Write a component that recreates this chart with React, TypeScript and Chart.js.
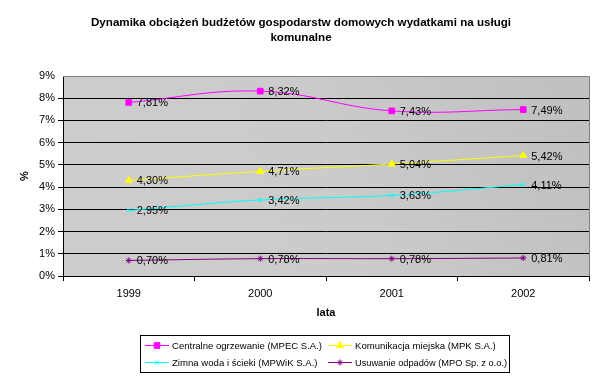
import React, { useEffect, useRef } from "react";
import { Chart, registerables } from "chart.js";
import { drawPoint } from "chart.js/helpers";

Chart.register(...registerables);

const titleLines = [
  "Dynamika obciążeń budżetów gospodarstw domowych wydatkami na usługi",
  "komunalne",
];
const categories = ["1999", "2000", "2001", "2002"];
const seriesNames = [
  "Centralne ogrzewanie (MPEC S.A.)",
  "Komunikacja miejska (MPK S.A.)",
  "Zimna woda i ścieki (MPWiK S.A.)",
  "Usuwanie odpadów (MPO Sp. z o.o.)",
];
const heating = [7.81, 8.32, 7.43, 7.49];
const transport = [4.3, 4.71, 5.04, 5.42];
const water = [2.95, 3.42, 3.63, 4.11];
const waste = [0.7, 0.78, 0.78, 0.81];
const yTicks = [0, 1, 2, 3, 4, 5, 6, 7, 8, 9];
const xTitle = "lata";
const yTitle = "%";

const colors = ["#FF00FF", "#FFFF00", "#00FFFF", "#800080"];
const pointStyles = ["rect", "triangle", "crossRot", "star"];
const radii = [4, 4, 3, 3];
const FONT = "'Liberation Sans', Arial, sans-serif";

const fmt = (v: number) => v.toFixed(2).replace(".", ",") + "%";

const decorPlugin = {
  id: "decor",
  beforeDraw(chart: any) {
    const { ctx, chartArea: a } = chart;
    ctx.save();
    const g = ctx.createLinearGradient(a.left, a.bottom, a.right, a.top);
    g.addColorStop(0, "#cdcdcd");
    g.addColorStop(0.5, "#cbcbcb");
    g.addColorStop(1, "#bfbfbf");
    ctx.fillStyle = g;
    ctx.fillRect(a.left, a.top, a.right - a.left, a.bottom - a.top);
    ctx.restore();
  },
  beforeDatasetsDraw(chart: any) {
    const { ctx, chartArea: a } = chart;
    ctx.save();
    ctx.strokeStyle = "#808080";
    ctx.lineWidth = 1;
    ctx.beginPath();
    ctx.moveTo(a.left, Math.round(a.top) + 0.5);
    ctx.lineTo(Math.round(a.right) + 0.5, Math.round(a.top) + 0.5);
    ctx.lineTo(Math.round(a.right) + 0.5, a.bottom);
    ctx.stroke();
    ctx.restore();
  },
  afterDatasetsDraw(chart: any) {
    const { ctx } = chart;
    ctx.save();
    ctx.font = `11px ${FONT}`;
    ctx.fillStyle = "#000";
    ctx.textBaseline = "middle";
    ctx.textAlign = "left";
    chart.data.datasets.forEach((ds: any, i: number) => {
      const meta = chart.getDatasetMeta(i);
      meta.data.forEach((pt: any, j: number) => {
        ctx.fillText(fmt(ds.data[j]), pt.x + 8, pt.y + 1);
      });
    });
    ctx.restore();
  },
  afterDraw(chart: any) {
    const { ctx, chartArea: a } = chart;
    ctx.save();
    ctx.fillStyle = "#000";
    ctx.textAlign = "center";
    ctx.textBaseline = "middle";
    ctx.font = `bold 11.6px ${FONT}`;
    ctx.fillText(titleLines[0], 301, 23);
    ctx.fillText(titleLines[1], 301, 38);
    ctx.font = `bold 11px ${FONT}`;
    ctx.fillText(xTitle, (a.left + a.right) / 2, 313);
    ctx.save();
    ctx.translate(25, (a.top + a.bottom) / 2);
    ctx.rotate(-Math.PI / 2);
    ctx.fillText(yTitle, 0, 0);
    ctx.restore();

    // legend
    const bx = 140.5, by = 335.5, bw = 369, bh = 37;
    ctx.strokeStyle = "#000";
    ctx.lineWidth = 1;
    ctx.strokeRect(bx, by, bw, bh);
    ctx.font = `9.6px ${FONT}`;
    ctx.textAlign = "left";
    const colX = [145, 328];
    const rowY = [345, 362];
    chart.data.datasets.forEach((ds: any, i: number) => {
      const x = colX[i % 2];
      const y = rowY[Math.floor(i / 2)];
      ctx.strokeStyle = ds.borderColor;
      ctx.lineWidth = 1;
      ctx.beginPath();
      ctx.moveTo(x, y + 0.5);
      ctx.lineTo(x + 24, y + 0.5);
      ctx.stroke();
      ctx.fillStyle = ds.pointBackgroundColor;
      ctx.strokeStyle = ds.pointBorderColor;
      drawPoint(ctx, { pointStyle: ds.pointStyle, radius: ds.pointRadius, borderWidth: 1, rotation: 0 } as any, x + 12, y + 0.5);
      ctx.fillStyle = "#000";
      const maxW = i % 2 === 0 ? 150 : 152;
      ctx.fillText(ds.label, x + 27, y + 1, maxW);
    });
    ctx.restore();
  },
};

export default function App() {
  const ref = useRef<HTMLCanvasElement>(null);
  useEffect(() => {
    if (!ref.current) return;
    const seriesData = [heating, transport, water, waste];
    const chart = new Chart(ref.current, {
      type: "line",
      data: {
        labels: categories,
        datasets: seriesData.map((d, i) => ({
          label: seriesNames[i],
          data: d,
          borderColor: colors[i],
          backgroundColor: colors[i],
          pointBackgroundColor: colors[i],
          pointBorderColor: colors[i],
          pointStyle: pointStyles[i] as any,
          pointRadius: radii[i],
          pointBorderWidth: 1,
          borderWidth: 1,
          tension: 0.4,
          fill: false,
        })),
      },
      options: {
        animation: false,
        responsive: false,
        devicePixelRatio: 1,
        layout: { padding: { left: 23, right: 14, top: 76, bottom: 75 } },
        plugins: {
          legend: { display: false },
          title: { display: false },
          tooltip: { enabled: false },
        },
        scales: {
          x: {
            type: "category",
            offset: true,
            grid: {
              offset: true,
              drawOnChartArea: false,
              drawTicks: true,
              tickLength: 5,
              color: "#000",
            },
            border: { color: "#000" },
            ticks: { font: { family: FONT, size: 11 }, color: "#000", padding: 6, maxRotation: 0 },
            afterFit: (s: any) => { s.height = 30; },
          },
          y: {
            min: 0,
            max: 9,
            afterBuildTicks: (s: any) => { s.ticks = yTicks.map((v) => ({ value: v })); },
            ticks: {
              font: { family: FONT, size: 11 },
              color: "#000",
              padding: 3,
              callback: (v: any) => v + "%",
            },
            grid: {
              color: (c: any) => (c.tick && c.tick.value === 9 ? "rgba(0,0,0,0)" : "#000"),
              tickLength: 5,
            },
            border: { color: "#000" },
            afterFit: (s: any) => { s.width = 40; },
          },
        },
      },
      plugins: [decorPlugin],
    });
    return () => chart.destroy();
  }, []);
  return (
    <div style={{ position: "absolute", left: 0, top: 0, width: 603, height: 381, background: "#fff" }}>
      <canvas ref={ref} width={603} height={381} style={{ width: 603, height: 381 }} />
    </div>
  );
}
